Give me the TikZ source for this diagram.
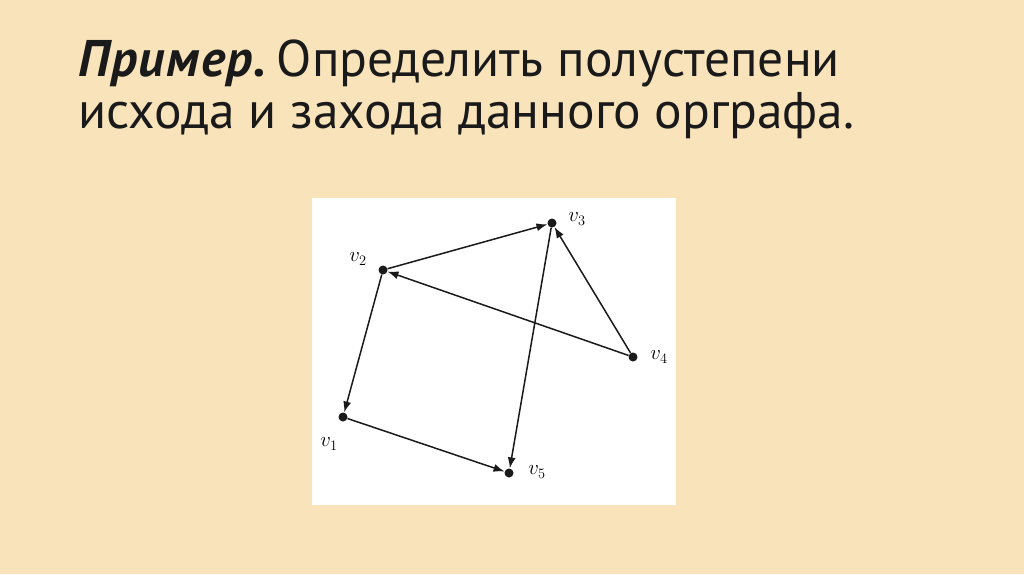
\documentclass[tikz,border=0pt]{standalone}
\usepackage{fontspec}
\setmainfont{PT Sans}
\usetikzlibrary{arrows.meta}
\definecolor{paper}{HTML}{F8E3BB}
\definecolor{ink}{HTML}{1A1A1A}
\tikzset{
  dot/.style={circle, fill=ink, inner sep=0pt, minimum size=9pt},
  lbl/.style={inner sep=0pt, font=\fontsize{21}{21}\selectfont},
  arc/.style={-{Latex[length=11pt,width=8pt]}, line width=1.5pt, draw=ink},
  headline/.style={anchor=base west, inner sep=0pt, text=ink, font=\fontsize{51.5}{51.5}\selectfont}
}
\begin{document}
\begin{tikzpicture}[x=1pt,y=-1pt]
\fill[paper] (0,0) rectangle (1024,574);
\useasboundingbox (0,0) rectangle (1024,574);
\node[headline] (title1) at (78,76.5) {{\bfseries\itshape\addfontfeature{LetterSpace=3}Пример.}\hspace{10pt}Определить полустепени};
\node[headline] (title2) at (78,128) {исхода и захода данного орграфа.};
\fill[white] (312,198) rectangle (676,505);
% vertices
\node[dot] (v1) at (343,417) {};
\node[dot] (v2) at (383,270) {};
\node[dot] (v3) at (552,223) {};
\node[dot] (v4) at (633,357) {};
\node[dot] (v5) at (509,473) {};
\node[lbl] (l1) at (329,444) {$v_1$};
\node[lbl] (l2) at (358,259) {$v_2$};
\node[lbl] (l3) at (577,219) {$v_3$};
\node[lbl] (l4) at (659,357) {$v_4$};
\node[lbl] (l5) at (537,472) {$v_5$};
% arcs
\draw[arc] (v2) -- (v3);
\draw[arc] (v4) -- (v2);
\draw[arc] (v4) -- (v3);
\draw[arc] (v3) -- (v5);
\draw[arc] (v2) -- (v1);
\draw[arc] (v1) -- (v5);
\end{tikzpicture}
\end{document}
